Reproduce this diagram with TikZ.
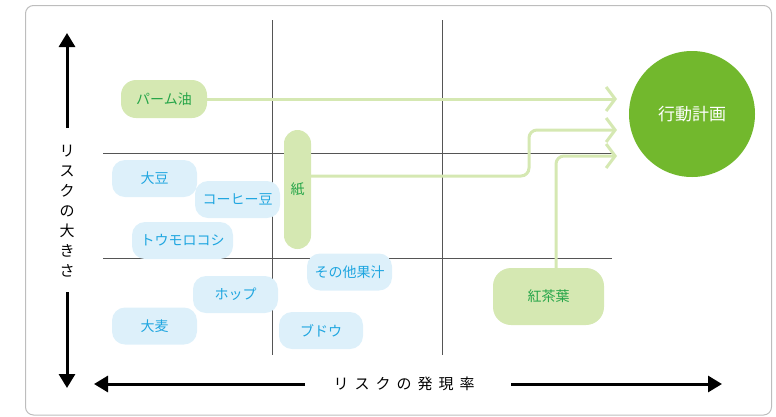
\documentclass[tikz,border=0pt]{standalone}
\usepackage{fontspec}
\newfontfamily\jp{Noto Sans CJK JP}
\usetikzlibrary{arrows.meta}
\definecolor{frameg}{HTML}{BDBDBD}
\definecolor{gridc}{HTML}{555555}
\definecolor{bfill}{HTML}{DDF0FA}
\definecolor{btext}{HTML}{1FA6E0}
\definecolor{gfill}{HTML}{D5E8B2}
\definecolor{gtext}{HTML}{25A548}
\definecolor{gcirc}{HTML}{72B82D}
\definecolor{gline}{HTML}{D5E8B2}
\tikzset{
  bluebox/.style={fill=bfill, text=btext, rounded corners=13pt, minimum width=85pt, minimum height=37pt, inner sep=0pt, font=\jp\fontsize{14}{16}\selectfont},
  greenbox/.style={fill=gfill, text=gtext, inner sep=0pt, font=\jp\fontsize{14}{16}\selectfont},
  gridline/.style={draw=gridc, line width=0.8pt},
  axisarrow/.style={draw=black, line width=3pt, -{Triangle[length=14pt,width=16pt]}},
  flow/.style={draw=gline, line width=3pt, -{Straight Barb[length=9pt,width=24pt]}, rounded corners=8pt},
}
\begin{document}
\begin{tikzpicture}[x=1pt,y=-1pt]
\useasboundingbox (0,0) rectangle (776,416);
% frame
\draw[frameg, line width=1pt, rounded corners=8pt] (25.5,5.5) rectangle (771.5,415);
% grid
\draw[gridline] (103,153) -- (612,153);
\draw[gridline] (103,258) -- (612,258);
\draw[gridline] (272,20) -- (272,355);
\draw[gridline] (442,20) -- (442,355);
% axes
\node[font=\jp\fontsize{15}{20}\selectfont, align=center, inner sep=0pt] (ylab) at (67,211) {リ\\ス\\ク\\の\\大\\き\\さ};
\coordinate (ya) at (67,128);
\coordinate (yt) at (67,33);
\coordinate (yb) at (67,292);
\coordinate (yd) at (67,388);
\draw[axisarrow] (ya) -- (yt);
\draw[axisarrow] (yb) -- (yd);
\node[font=\jp\fontsize{15}{18}\selectfont, inner sep=0pt] (xlab) at (404,384) {リ\hspace{6pt}ス\hspace{6pt}ク\hspace{6pt}の\hspace{6pt}発\hspace{6pt}現\hspace{6pt}率};
\coordinate (xa) at (305,384);
\coordinate (xl) at (94,384);
\coordinate (xb) at (511,384);
\coordinate (xr) at (722,384);
\draw[axisarrow] (xa) -- (xl);
\draw[axisarrow] (xb) -- (xr);
% blue nodes
\node[bluebox] (daizu) at (154.5,178.5) {大豆};
\node[bluebox] (coffee) at (237.5,199.5) {コーヒー豆};
\node[bluebox, minimum width=101pt] (corn) at (182.5,240.5) {トウモロコシ};
\node[bluebox] (juice) at (349.5,272) {その他果汁};
\node[bluebox] (hop) at (235.5,294.5) {ホップ};
\node[bluebox] (mugi) at (154.5,326) {大麦};
\node[bluebox, minimum width=84pt] (grape) at (321,330.5) {ブドウ};
% green nodes
\node[greenbox, rounded corners=15pt, minimum width=86pt, minimum height=38pt] (palm) at (164,99) {パーム油};
\node[greenbox, rounded corners=13.5pt, minimum width=27pt, minimum height=119pt] (kami) at (297.5,189.5) {紙};
\node[greenbox, rounded corners=18pt, minimum width=111pt, minimum height=57pt] (kocha) at (548.5,296.5) {紅茶葉};
% plan circle
\node[circle, fill=gcirc, text=white, minimum size=126pt, inner sep=0pt, font=\jp\fontsize{17}{20}\selectfont] (plan) at (692,114) {行動計画};
% flows
\coordinate (t1) at (617,99);
\coordinate (c2) at (529,130);
\coordinate (t2) at (617,130);
\coordinate (t3) at (617,156);
\draw[flow] (palm) -- (t1);
\draw[flow] ([yshift=13.5pt]kami.east) -| (c2) -- (t2);
\draw[flow] ([xshift=7.5pt]kocha.north) |- (t3);
\end{tikzpicture}
\end{document}
